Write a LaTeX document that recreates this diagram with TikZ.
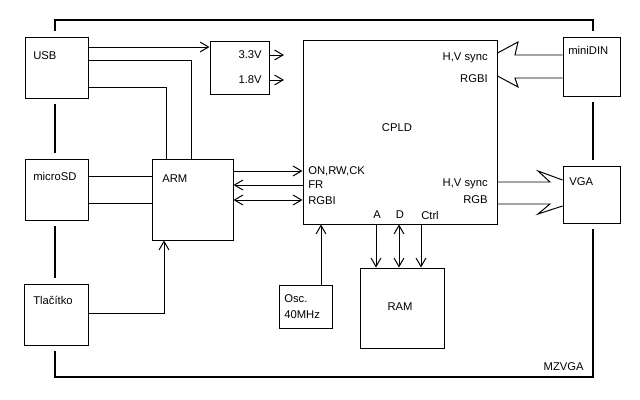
\documentclass[tikz,border=0pt]{standalone}
\usepackage{fontspec}
\setmainfont{Liberation Sans}
\usetikzlibrary{arrows.meta,calc}

\newlength\pxu
\setlength\pxu{0.025cm}

\tikzset{
    blok/.style={draw,fill=white,line width=0.7pt,inner sep=0pt,
        preaction={draw=white,line width=8pt}},
    txt/.style={inner sep=0pt,font=\fontsize{8}{9.5}\selectfont},
    spoj/.style={line width=0.7pt},
    sip/.style={spoj,-{Straight Barb[length=6pt,width=7pt]}},
    dvojsip/.style={spoj,{Straight Barb[length=6pt,width=7pt]}-{Straight Barb[length=6pt,width=7pt]}},
    ramec/.style={line width=2.1pt}
}

\begin{document}
\begin{tikzpicture}[x=0.025cm,y=-0.025cm]
        \useasboundingbox (0,0) rectangle (640,400);

        % Outer frame of the board
        \draw[ramec] (55,20) rectangle (593,377);
        \node[txt,anchor=east] (tmzvga) at (584,367) {MZVGA};

        % Blocks
        \node[blok,minimum width=63\pxu,minimum height=61\pxu] (usb) at (56.5,67.5) {};
        \node[blok,minimum width=63\pxu,minimum height=61\pxu] (microsd) at (56.5,189.5) {};
        \node[blok,minimum width=64\pxu,minimum height=61\pxu] (tlacitko) at (56,314.5) {};
        \node[blok,minimum width=81\pxu,minimum height=81\pxu] (arm) at (192.5,199.5) {};
        \node[blok,minimum width=59\pxu,minimum height=53\pxu] (napajeni) at (239.5,67.5) {};
        \node[blok,minimum width=194\pxu,minimum height=184\pxu] (cpld) at (400,132) {};
        \node[blok,minimum width=57\pxu,minimum height=59\pxu] (minidin) at (591.5,66.5) {};
        \node[blok,minimum width=57\pxu,minimum height=57\pxu] (vga) at (591.5,194.5) {};
        \node[blok,minimum width=53\pxu,minimum height=43\pxu] (osc) at (305.5,306.5) {};
        \node[blok,minimum width=84\pxu,minimum height=80\pxu] (ram) at (402,308) {};

        % Block texts
        \node[txt,anchor=west] (tusb) at (33,56) {USB};
        \node[txt,anchor=west] (tmicrosd) at (33,176) {microSD};
        \node[txt,anchor=west] (ttlacitko) at (33,300.5) {Tlačítko};
        \node[txt,anchor=west] (tarm) at (162,179) {ARM};
        \node[txt,anchor=east] (t33) at (262,55) {3.3V};
        \node[txt,anchor=east] (t18) at (262,80) {1.8V};
        \node[txt] (tcpld) at (397,128) {CPLD};
        \node[txt,anchor=west] (tminidin) at (568,50) {miniDIN};
        \node[txt,anchor=west] (tvga) at (569,182) {VGA};
        \node[txt,anchor=west] (tosc) at (284,299) {Osc.};
        \node[txt,anchor=west] (tmhz) at (284,315) {40MHz};
        \node[txt] (tram) at (400,307) {RAM};

        % CPLD pin texts
        \node[txt,anchor=east] (thv1) at (488,58) {H,V sync};
        \node[txt,anchor=east] (trgbi1) at (488,79) {RGBI};
        \node[txt,anchor=east] (thv2) at (488,184) {H,V sync};
        \node[txt,anchor=east] (trgb2) at (488,200) {RGB};
        \node[txt,anchor=west] (ton) at (308,171) {ON,RW,CK};
        \node[txt,anchor=west] (tfr) at (308,185) {FR};
        \node[txt,anchor=west] (trgbi2) at (308,200.5) {RGBI};
        \node[txt] (ta) at (377,215) {A};
        \node[txt] (td) at (400,215) {D};
        \node[txt] (tctrl) at (430,215) {Ctrl};

        % Free ends of the supply outputs
        \coordinate (out33) at (284,55);
        \coordinate (out18) at (284,80);

        % USB connections
        \draw[sip] (usb.east |- 0,47) -- (napajeni.west |- 0,47);
        \draw[sip] (napajeni.east |- out33) -- (out33);
        \draw[sip] (napajeni.east |- out18) -- (out18);
        \draw[spoj] (usb.east |- 0,60) -| (arm.north -| 191,0);
        \draw[spoj] (usb.east |- 0,87) -| (arm.north -| 166,0);

        % microSD and button
        \draw[spoj] (microsd.east |- 0,176) -- (arm.west |- 0,176);
        \draw[spoj] (microsd.east |- 0,203) -- (arm.west |- 0,203);
        \draw[sip] (tlacitko.east |- 0,313) -| (arm.south -| 164,0);

        % ARM <-> CPLD
        \draw[sip] (arm.east |- 0,171) -- (cpld.west |- 0,171);
        \draw[sip] (cpld.west |- 0,185) -- (arm.east |- 0,185);
        \draw[dvojsip] (arm.east |- 0,200) -- (cpld.west |- 0,200);

        % Oscillator and RAM
        \draw[sip] (osc.north -| 321,0) -- (cpld.south -| 321,0);
        \draw[sip] (cpld.south -| 376,0) -- (ram.north -| 376,0);
        \draw[dvojsip] (cpld.south -| 399,0) -- (ram.north -| 399,0);
        \draw[sip] (cpld.south -| 421,0) -- (ram.north -| 421,0);

        % Bus from miniDIN
        \draw[spoj] (minidin.west |- 0,55) -- (515,55) -- (518,42) -- (cpld.east |- 0,53);
        \draw[spoj] (minidin.west |- 0,78) -- (515,78) -- (518,87) -- (cpld.east |- 0,76);

        % Bus to VGA
        \draw[spoj] (cpld.east |- 0,182) -- (550,182) -- (538,171) -- (vga.west |- 0,180);
        \draw[spoj] (cpld.east |- 0,204) -- (550,204) -- (538,214) -- (vga.west |- 0,206);
\end{tikzpicture}
\end{document}
